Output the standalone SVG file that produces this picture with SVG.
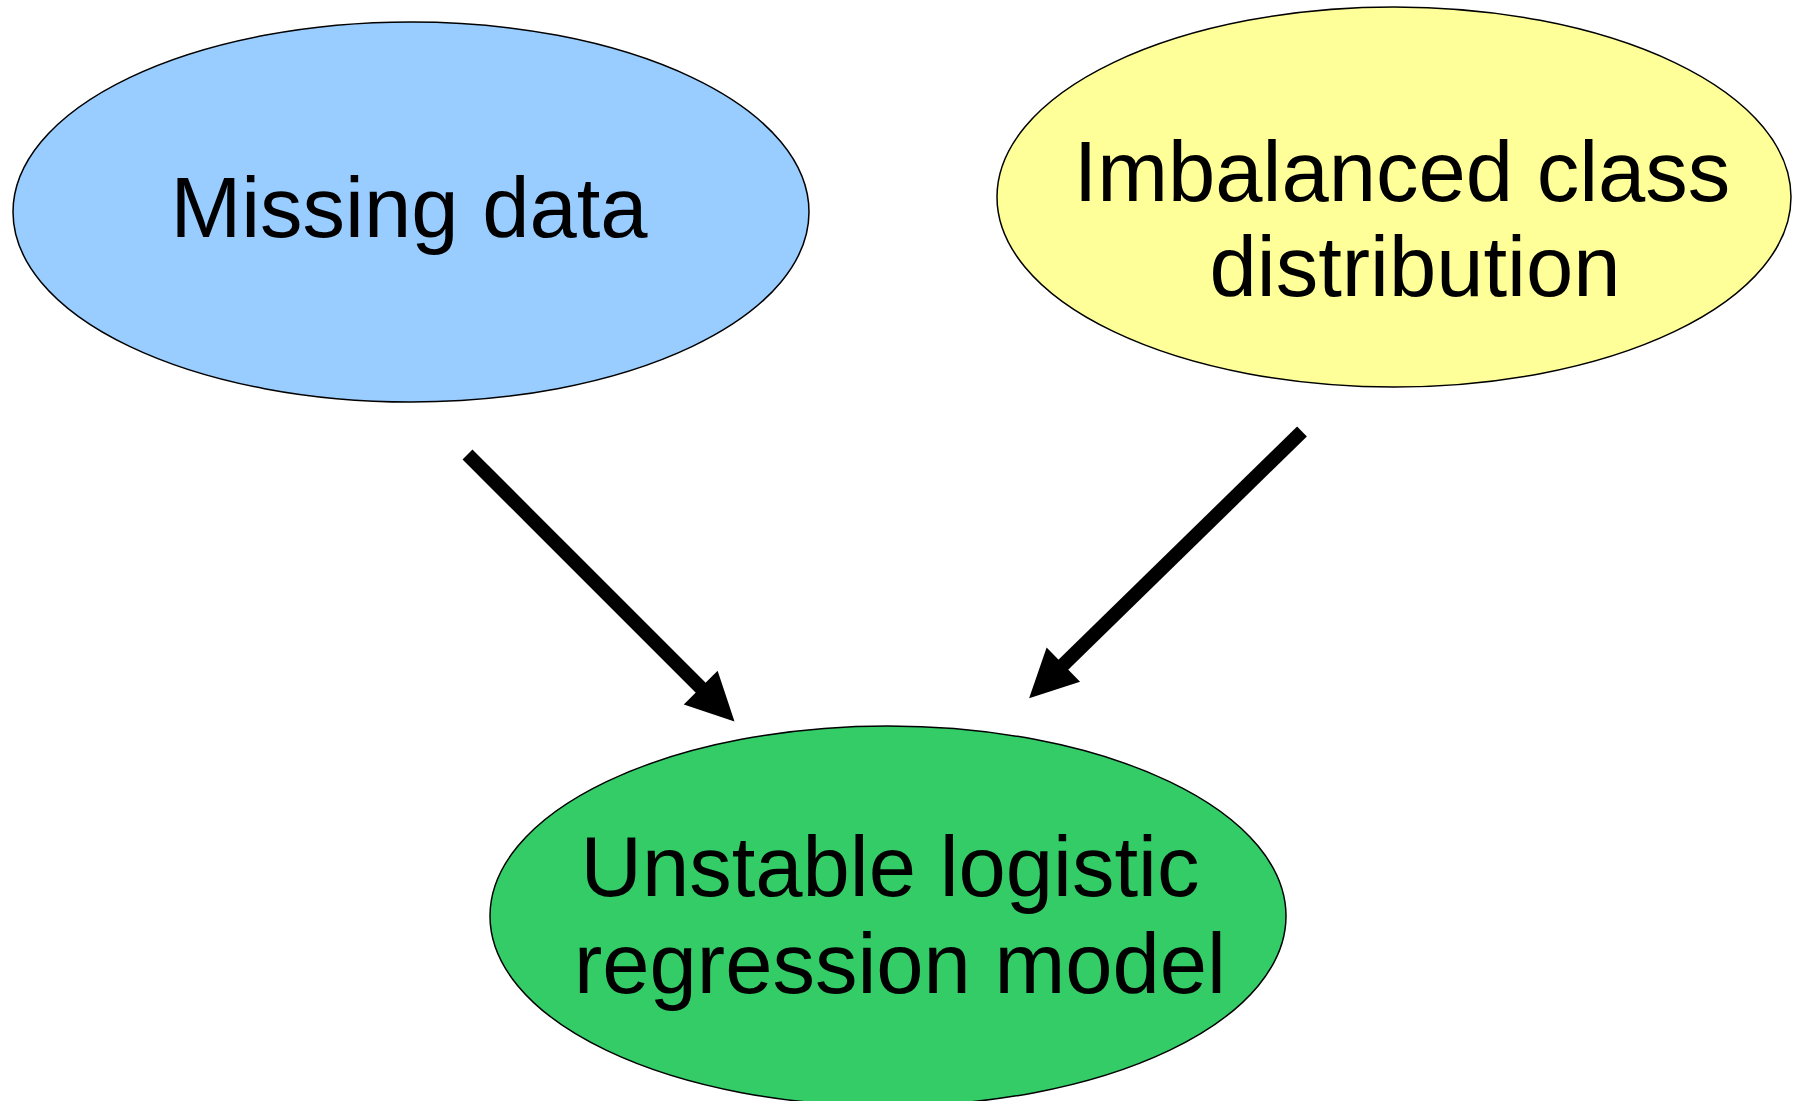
<svg xmlns="http://www.w3.org/2000/svg" width="1799" height="1101" viewBox="0 0 1799 1101">
<style>
  .node { stroke: #000000; stroke-width: 1.5; }
  .label { font-family: "Liberation Sans", Arial, sans-serif; font-size: 85px; fill: #000000; text-anchor: middle; }
  .edge { stroke: #000000; stroke-width: 14; fill: none; stroke-linecap: butt; }
</style>
<defs>
  <marker id="arrow" markerUnits="userSpaceOnUse" markerWidth="50" markerHeight="50" viewBox="0 -23 45 46" refX="3" refY="0" orient="auto" overflow="visible">
    <path d="M0,-22 L44,0 L0,22 Z" fill="#000000"/>
  </marker>
</defs>
<rect width="1799" height="1101" fill="#ffffff"/>
<g id="missing-data">
  <ellipse class="node" cx="411" cy="212" rx="398" ry="190" fill="#99ccff"/>
  <text class="label" x="409" y="237">Missing data</text>
</g>
<g id="imbalanced-class">
  <ellipse class="node" cx="1394" cy="197" rx="397" ry="190" fill="#ffff99"/>
  <text class="label" x="1402" y="201">Imbalanced class</text>
  <text class="label" x="1415" y="296">distribution</text>
</g>
<g id="unstable-model">
  <ellipse class="node" cx="888" cy="916" rx="398" ry="190" fill="#33cc66"/>
  <text class="label" x="890" y="896">Unstable logistic</text>
  <text class="label" x="900" y="993">regression model</text>
</g>
<g id="connectors">
  <line class="edge" x1="467.5" y1="454.5" x2="703" y2="690" marker-end="url(#arrow)"/>
  <line class="edge" x1="1302" y1="431.5" x2="1061" y2="667" marker-end="url(#arrow)"/>
</g>
</svg>
